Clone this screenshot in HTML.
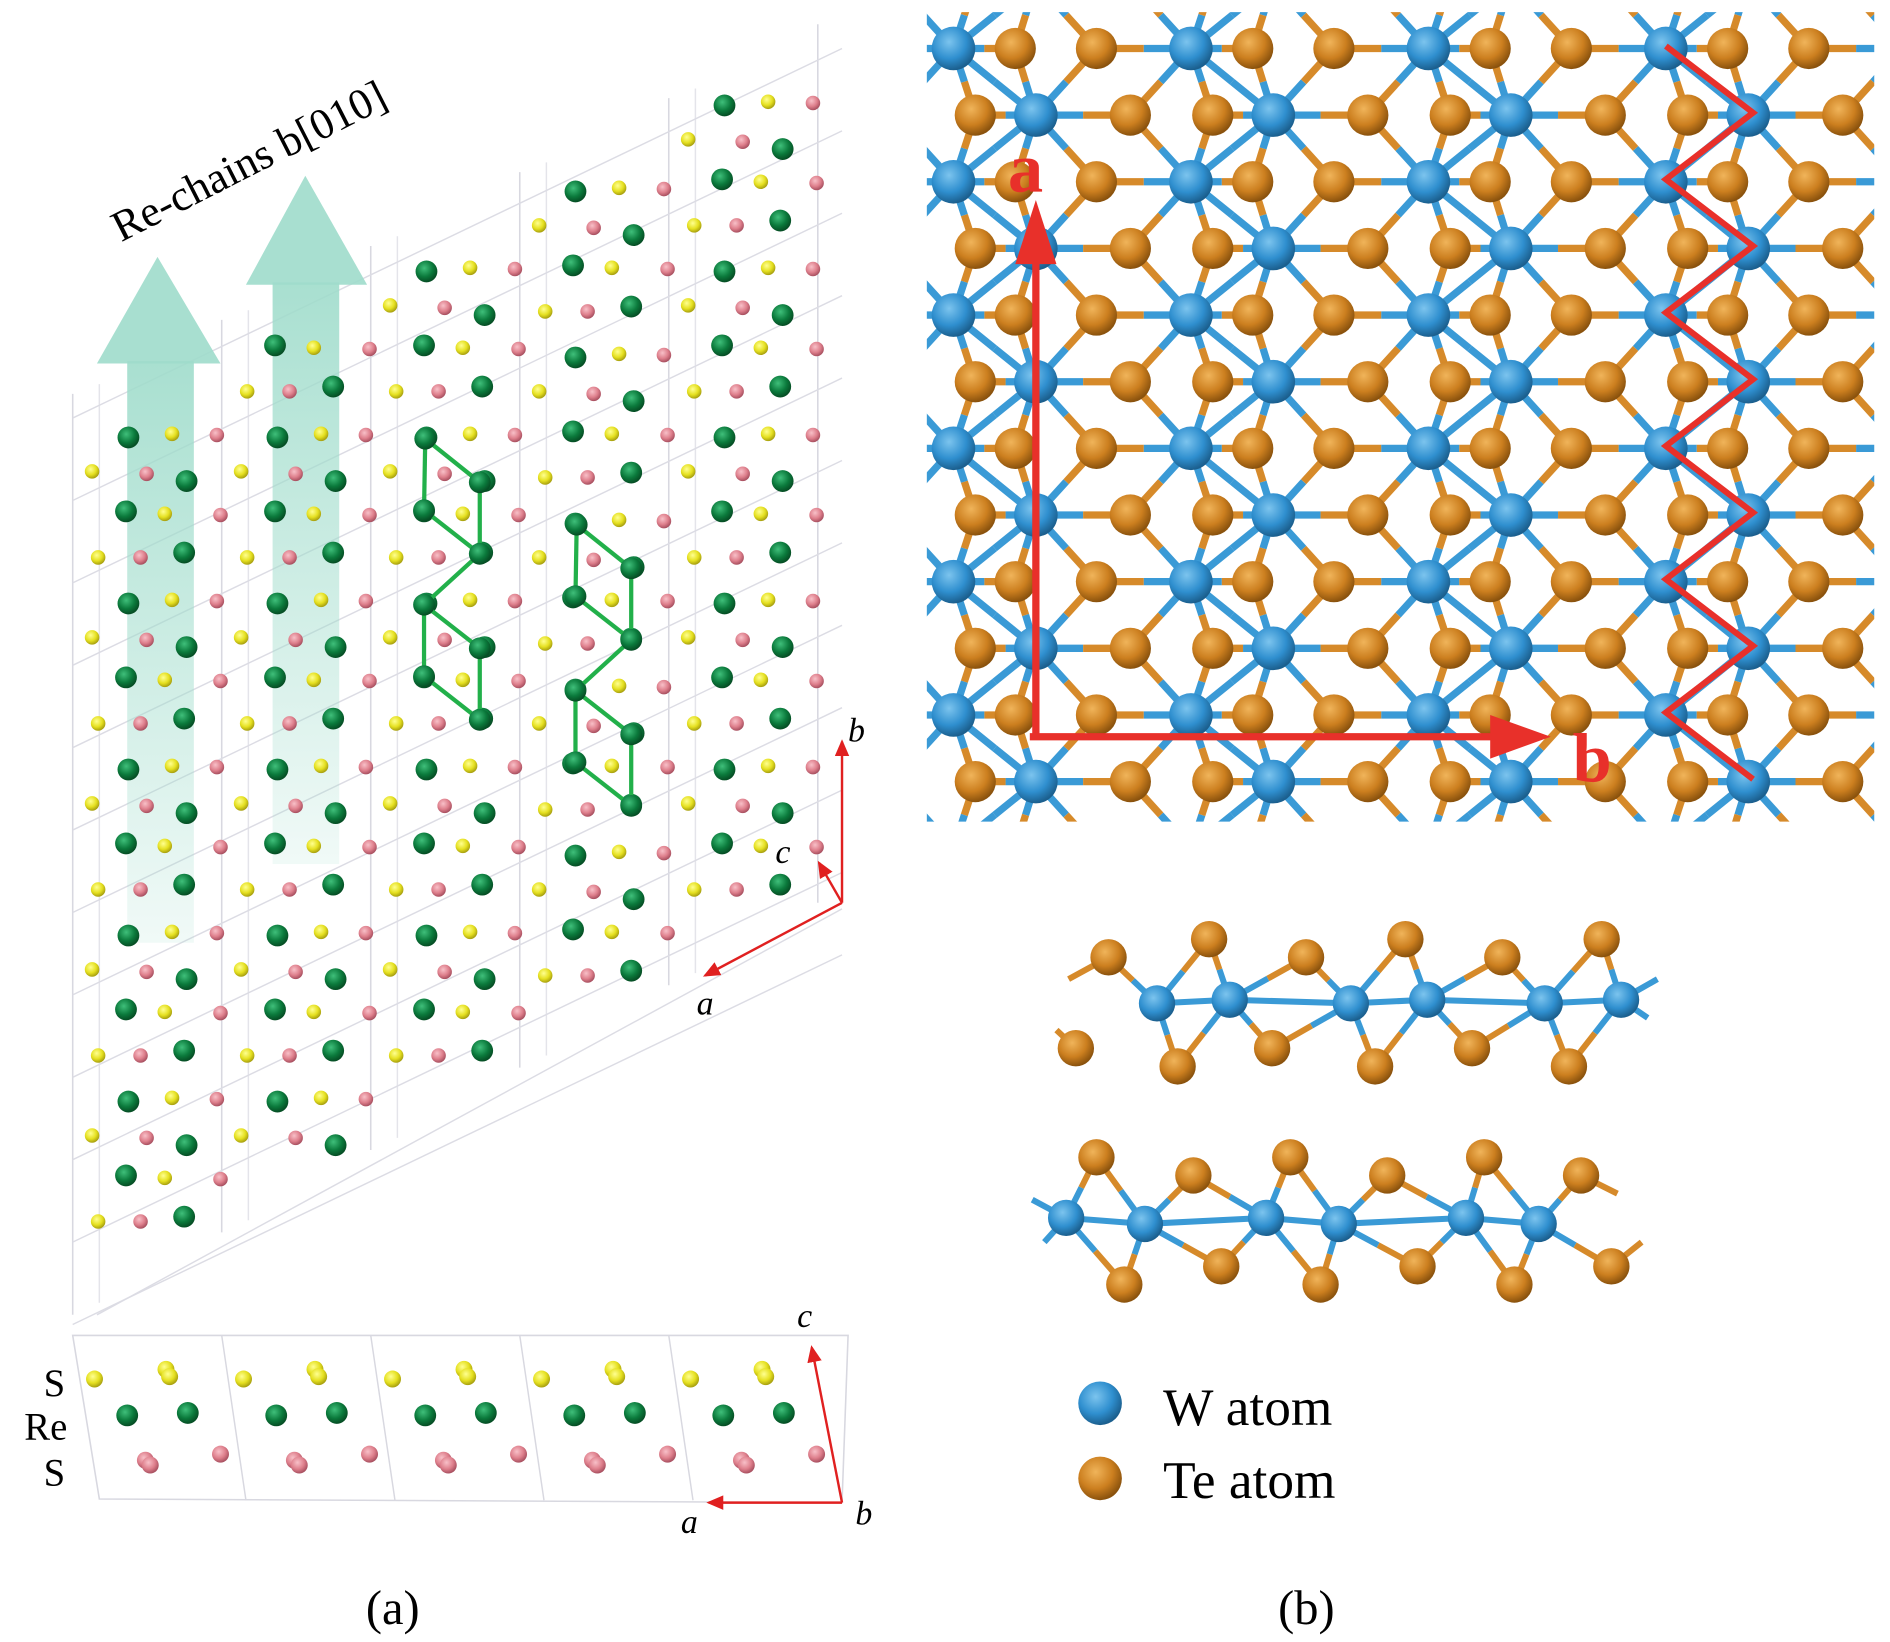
<!DOCTYPE html>
<html><head><meta charset="utf-8"><style>
html,body{margin:0;padding:0;background:#fff;}
svg{display:block;}
text{font-family:"Liberation Serif",serif;}
</style></head><body>
<svg id="s" width="1890" height="1642" viewBox="0 0 1560 1355" preserveAspectRatio="none" xmlns="http://www.w3.org/2000/svg">
<defs>
<radialGradient id="gW" cx="40%" cy="35%" r="65%"><stop offset="0" stop-color="#7cc4ee"/><stop offset="0.6" stop-color="#2f8fcf"/><stop offset="1" stop-color="#1b5f8e"/></radialGradient>
<radialGradient id="gT" cx="40%" cy="35%" r="65%"><stop offset="0" stop-color="#f0b45a"/><stop offset="0.6" stop-color="#cc7f1f"/><stop offset="1" stop-color="#8a520d"/></radialGradient>
<radialGradient id="gG" cx="40%" cy="35%" r="65%"><stop offset="0" stop-color="#3fbf7a"/><stop offset="0.6" stop-color="#0b7a3c"/><stop offset="1" stop-color="#064d24"/></radialGradient>
<radialGradient id="gY" cx="40%" cy="35%" r="65%"><stop offset="0" stop-color="#ffff90"/><stop offset="0.6" stop-color="#e5e020"/><stop offset="1" stop-color="#a8a010"/></radialGradient>
<radialGradient id="gP" cx="40%" cy="35%" r="65%"><stop offset="0" stop-color="#f8c0c8"/><stop offset="0.6" stop-color="#de7f8c"/><stop offset="1" stop-color="#a85060"/></radialGradient>
<linearGradient id="fade" x1="0" y1="0" x2="0" y2="1"><stop offset="0" stop-color="#9fdccb" stop-opacity="0.9"/><stop offset="1" stop-color="#9fdccb" stop-opacity="0.15"/></linearGradient>
<clipPath id="cb"><rect x="765" y="10" width="782" height="668"/></clipPath>
<marker id="ar" markerWidth="8" markerHeight="8" refX="6" refY="3" orient="auto"><path d="M0,0 L7,3 L0,6 z" fill="#e02020"/></marker>
</defs>
<g id="left"></g>
<g id="bot"></g>
<g id="b" clip-path="url(#cb)"></g>
<g id="side"></g>
<text x="100" y="200" font-size="36" transform="rotate(-27 100 200)">Re-chains b[010]</text>
<text x="700" y="612" font-size="28" font-style="italic">b</text>
<text x="640" y="712" font-size="28" font-style="italic">c</text>
<text x="575" y="837" font-size="28" font-style="italic">a</text>
<text x="658" y="1095" font-size="28" font-style="italic">c</text>
<text x="562" y="1265" font-size="28" font-style="italic">a</text>
<text x="706" y="1258" font-size="28" font-style="italic">b</text>
<text x="36" y="1152" font-size="32">S</text>
<text x="20" y="1188" font-size="32">Re</text>
<text x="36" y="1226" font-size="32">S</text>
<text x="302" y="1340" font-size="40">(a)</text>
<text x="1055" y="1340" font-size="40">(b)</text>
<circle cx="908" cy="1158" r="18" fill="url(#gW)"/>
<circle cx="908" cy="1220" r="18" fill="url(#gT)"/>
<text x="960" y="1176" font-size="44">W atom</text>
<text x="960" y="1236" font-size="44">Te atom</text>
<text x="832" y="158" font-size="58" font-weight="bold" fill="#e8302a" font-family="Liberation Sans">a</text>
<text x="1298" y="645" font-size="58" font-weight="bold" fill="#e8302a" font-family="Liberation Sans">b</text>
</svg>
<script>
const NS="http://www.w3.org/2000/svg";
function el(p,t,a){const e=document.createElementNS(NS,t);for(const k in a)e.setAttribute(k,a[k]);p.appendChild(e);return e;}
const L=document.getElementById('left');
for(let c=0;c<6;c++){const x=60+123*c;const top=345-61*c-20,bt=1085-68*c;
 el(L,'line',{x1:x,y1:top,x2:x,y2:bt,stroke:'#d8d8e0','stroke-width':1.3});
 if(c<5)el(L,'line',{x1:x+22,y1:top-8,x2:x+22,y2:bt-10,stroke:'#e4e4ea','stroke-width':1.2});}
for(let k=0;k<12;k++){const y=345+68*k;el(L,'line',{x1:60,y1:y,x2:695,y2:y-305,stroke:'#dcdce4','stroke-width':1.2});}
el(L,'line',{x1:80,y1:1085,x2:695,y2:750,stroke:'#dcdce4','stroke-width':1.2});
el(L,'rect',{x:105,y:298,width:55,height:480,fill:'url(#fade)'});
el(L,'polygon',{points:'80,300 130,212 182,300',fill:'#9fdccb','fill-opacity':0.9});
el(L,'rect',{x:225,y:233,width:55,height:480,fill:'url(#fade)'});
el(L,'polygon',{points:'203,235 252,145 303,235',fill:'#9fdccb','fill-opacity':0.9});
const mot=[['G',48,0,9],['G',96,36,9],['G',46,61,9],['G',94,95,9],['Y',84,-3,6],['Y',18,28,6],['Y',78,63,6],['Y',23,99,6],['P',121,-2,6],['P',63,30,6],['P',124,64,6],['P',58,99,6]];
const gm={G:'url(#gG)',Y:'url(#gY)',P:'url(#gP)'};
const phase=[361,361,361,432,361];
for(let c=0;c<5;c++){const x0=58+123*c;const top=350-67*c,bt=1020-68*c;
 for(let k=-5;k<8;k++){const r0=phase[c]+137*k;
  for(const m of mot){const y=r0+m[2];if(y<top||y>bt)continue;el(L,'circle',{cx:x0+m[1],cy:y,r:m[3],fill:gm[m[0]]});}}}
function chain(dx,dy){const p=[[351,362],[396,398],[396,457],[350,421],[350,499],[396,535],[396,594],[350,558]].map(q=>[q[0]+dx,q[1]+dy]);
 const e=[[0,1],[0,3],[3,2],[1,2],[2,4],[4,5],[4,7],[7,6],[5,6]];
 for(const [a,b] of e)el(L,'line',{x1:p[a][0],y1:p[a][1],x2:p[b][0],y2:p[b][1],stroke:'#22b04a','stroke-width':3.5});
 for(const q of p)el(L,'circle',{cx:q[0],cy:q[1],r:9,fill:'url(#gG)'});}
chain(0,0);chain(125,71);
el(L,'line',{x1:695,y1:745,x2:695,y2:612,stroke:'#e02020','stroke-width':2,'marker-end':'url(#ar)'});
el(L,'line',{x1:695,y1:745,x2:582,y2:805,stroke:'#e02020','stroke-width':2,'marker-end':'url(#ar)'});
el(L,'line',{x1:695,y1:745,x2:676,y2:712,stroke:'#e02020','stroke-width':2,'marker-end':'url(#ar)'});
const B=document.getElementById('bot');
el(B,'polygon',{points:'60,1102 700,1102 695,1240 82,1237',fill:'none',stroke:'#d8d8e0','stroke-width':1.3});
for(let c=1;c<5;c++){const x=60+123*c;el(B,'line',{x1:x,y1:1102,x2:x+20,y2:1238,stroke:'#d8d8e0','stroke-width':1.2});}
for(let c=0;c<5;c++){const x0=60+123*c;
 [['Y',18,1138,7],['Y',77,1130,7],['Y',80,1136,7],['G',45,1168,9],['G',95,1166,9],['P',60,1205,7],['P',122,1200,7],['P',64,1209,7]].forEach(m=>el(B,'circle',{cx:x0+m[1],cy:m[2],r:m[3],fill:gm[m[0]]}));}
el(B,'line',{x1:695,y1:1240,x2:670,y2:1112,stroke:'#e02020','stroke-width':2,'marker-end':'url(#ar)'});
el(B,'line',{x1:695,y1:1240,x2:585,y2:1240,stroke:'#e02020','stroke-width':2,'marker-end':'url(#ar)'});
const G=document.getElementById('b');
const W=[],T=[];
for(let x0=591;x0<1600;x0+=196){
 for(let k=-1;k<7;k++){const yA=40+110*k,yB=95+110*k;
  W.push([x0,yA]);T.push([x0+51,yA]);T.push([x0+118,yA]);
  T.push([x0+18,yB]);W.push([x0+68,yB]);T.push([x0+146,yB]);}}
const bonds=el(G,'g',{});
function bond(a,b,c1,c2,w){const mx=(a[0]+b[0])/2,my=(a[1]+b[1])/2;
 el(bonds,'line',{x1:a[0],y1:a[1],x2:mx,y2:my,stroke:c1,'stroke-width':w});
 el(bonds,'line',{x1:mx,y1:my,x2:b[0],y2:b[1],stroke:c2,'stroke-width':w});}
for(const w of W){for(const w2 of W){const dx=w2[0]-w[0],dy=w2[1]-w[1];if(dx>0&&dx<=70&&Math.abs(dy)==55)bond(w,w2,'#3a9ad6','#3a9ad6',6);}
 for(const t of T){const d=Math.hypot(t[0]-w[0],t[1]-w[1]);if(d<85)bond(w,t,'#3a9ad6','#d68a2a',6);}}
for(const t of T)el(G,'circle',{cx:t[0],cy:t[1],r:17,fill:'url(#gT)'});
for(const w of W)el(G,'circle',{cx:w[0],cy:w[1],r:18,fill:'url(#gW)'});
el(G,'line',{x1:855,y1:608,x2:855,y2:215,stroke:'#e8302a','stroke-width':6});
el(G,'polygon',{points:'838,218 872,218 855,165',fill:'#e8302a'});
el(G,'line',{x1:850,y1:608,x2:1235,y2:608,stroke:'#e8302a','stroke-width':6});
el(G,'polygon',{points:'1230,590 1230,626 1280,608',fill:'#e8302a'});
let zz='';for(let i=0;i<12;i++){zz+=(i%2?1447:1375)+','+(38+55*i)+' ';}
el(G,'polyline',{points:zz,fill:'none',stroke:'#e8302a','stroke-width':5});
const S=document.getElementById('side');
function layer(top,Wp,bot,stubs){const sb=el(S,'g',{});
 for(const s of stubs)el(sb,'line',{x1:s[0],y1:s[1],x2:s[2],y2:s[3],stroke:s[4],'stroke-width':5});
 for(const w of Wp){for(const t of top.concat(bot)){if(Math.hypot(t[0]-w[0],t[1]-w[1])<75){
  const mx=(t[0]+w[0])/2,my=(t[1]+w[1])/2;
  el(sb,'line',{x1:w[0],y1:w[1],x2:mx,y2:my,stroke:'#3a9ad6','stroke-width':5});
  el(sb,'line',{x1:mx,y1:my,x2:t[0],y2:t[1],stroke:'#d68a2a','stroke-width':5});}}
  for(const w2 of Wp)if(w2[0]>w[0]&&w2[0]-w[0]<110)el(sb,'line',{x1:w[0],y1:w[1],x2:w2[0],y2:w2[1],stroke:'#3a9ad6','stroke-width':5});}
 top.concat(bot).forEach(t=>el(S,'circle',{cx:t[0],cy:t[1],r:15,fill:'url(#gT)'}));
 Wp.forEach(w=>el(S,'circle',{cx:w[0],cy:w[1],r:15,fill:'url(#gW)'}));}
layer([[915,790],[998,775],[1078,790],[1160,775],[1240,790],[1322,775]],
 [[955,828],[1015,825],[1115,828],[1178,825],[1275,828],[1338,825]],
 [[888,865],[972,880],[1050,865],[1135,880],[1215,865],[1295,880]],
 [[915,790,882,808,'#d68a2a'],[888,865,872,850,'#d68a2a'],[1338,825,1368,808,'#3a9ad6'],[1338,825,1360,840,'#3a9ad6']]);
layer([[905,955],[985,970],[1065,955],[1145,970],[1225,955],[1305,970]],
 [[880,1005],[945,1010],[1045,1005],[1105,1010],[1210,1005],[1270,1010]],
 [[928,1060],[1008,1045],[1090,1060],[1170,1045],[1250,1060],[1330,1045]],
 [[880,1005,852,990,'#3a9ad6'],[880,1005,862,1025,'#3a9ad6'],[1305,970,1335,985,'#d68a2a'],[1330,1045,1355,1025,'#d68a2a']]);
</script>
</body></html>
